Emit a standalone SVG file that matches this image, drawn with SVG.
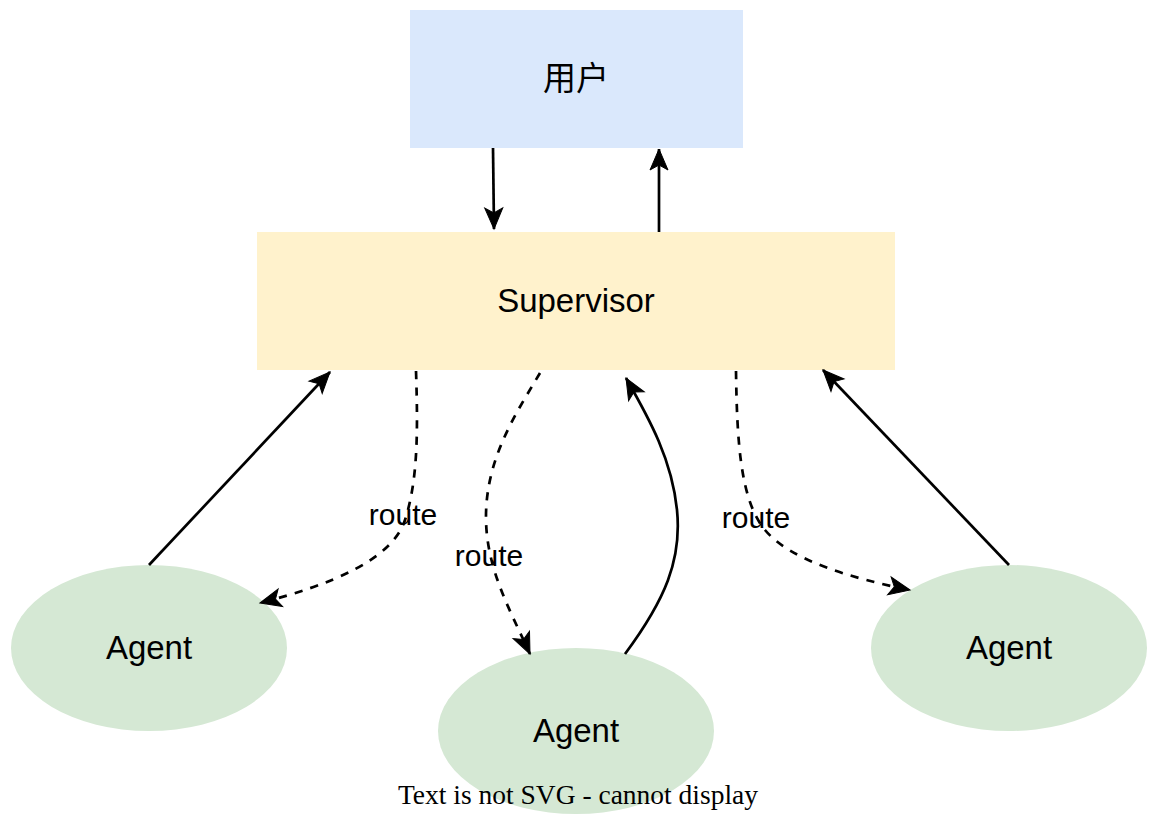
<svg xmlns="http://www.w3.org/2000/svg" width="1153" height="819" viewBox="0 0 1153 819">
<style>
.lbl{font-family:"Liberation Sans","Noto Sans CJK SC",Arial,sans-serif;font-size:33px;fill:#000;text-anchor:middle}
.rt{font-family:"Liberation Sans",Arial,sans-serif;font-size:30px;fill:#000;text-anchor:middle}
.e{fill:none;stroke:#000;stroke-width:2.7;marker-end:url(#arr)}
.d{stroke-dasharray:8.2 8.2}
.agent{fill:#d5e8d4}
</style>
<defs>
<marker id="arr" viewBox="-23 -11 25 22" refX="0" refY="0" markerWidth="25" markerHeight="22" markerUnits="userSpaceOnUse" orient="auto">
<path d="M0,0 L-21,-9 L-16,0 L-21,9 Z" fill="#000" stroke="#000" stroke-width="1"/>
</marker>
</defs>
<rect width="1153" height="819" fill="#fff"/>
<g id="user">
<rect x="410" y="10" width="333" height="138" fill="#dae8fc"/>
<text class="lbl" x="576" y="90">用户</text>
</g>
<g id="supervisor">
<rect x="257" y="232" width="638" height="138" fill="#fff2cc"/>
<text class="lbl" x="576" y="312">Supervisor</text>
</g>
<g id="agent-left">
<ellipse class="agent" cx="149" cy="648" rx="138" ry="83"/>
<text class="lbl" x="149" y="659">Agent</text>
</g>
<g id="agent-mid">
<ellipse class="agent" cx="576" cy="731" rx="138" ry="83"/>
<text class="lbl" x="576" y="742">Agent</text>
</g>
<g id="agent-right">
<ellipse class="agent" cx="1009" cy="648" rx="138" ry="83"/>
<text class="lbl" x="1009" y="659">Agent</text>
</g>
<g id="connectors">
<path class="e" d="M493,148 L494,229"/>
<path class="e" d="M659,232 L659,149"/>
<path class="e" d="M149,565 L330,372"/>
<path class="e" d="M1009,565 L823,370"/>
<path class="e d" d="M416,371 C418,430 418,480 405,520 C392,560 330,585 260,603"/>
<path class="e d" d="M540,373 C515,415 485,460 486,520 C487,570 510,610 530,654"/>
<path class="e" d="M625,654 C665,600 682,560 677,510 C672,460 650,420 626,378"/>
<path class="e d" d="M736,371 C737,440 740,500 765,530 C790,560 850,578 910,590"/>
<text class="rt" x="403" y="525">route</text>
<text class="rt" x="489" y="566">route</text>
<text class="rt" x="756" y="528">route</text>
</g>
<text x="578" y="804" font-family="'Liberation Serif','Times New Roman',serif" font-size="27.5" text-anchor="middle" fill="#000">Text is not SVG - cannot display</text>
</svg>
